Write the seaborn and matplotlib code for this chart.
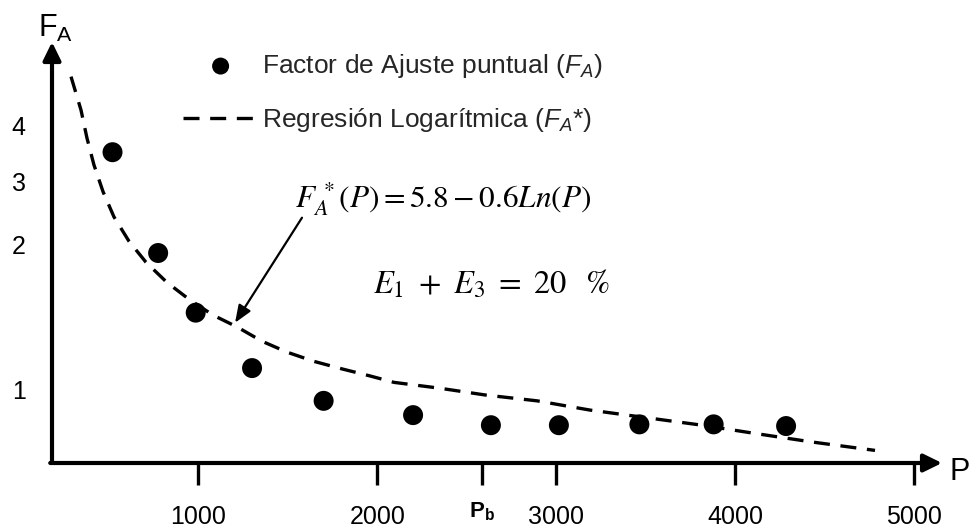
import matplotlib
matplotlib.use('Agg')
import matplotlib.pyplot as plt
import seaborn as sns
import pandas as pd
from matplotlib.transforms import ScaledTranslation

# ---------------- data ----------------
point_P = [520, 775, 985, 1300, 1700, 2200, 2635, 3015, 3465, 3880, 4285]
point_FA = [3.70, 2.50, 1.79, 1.13, 0.74, 0.57, 0.45, 0.45, 0.46, 0.46, 0.44]

curve_P = [288, 344, 377, 416, 467, 528, 612, 707, 824, 947, 1082, 1216, 1355,
           1495, 1646, 1803, 1953, 2093, 2350, 2602, 2893, 3189, 3502, 3815,
           4117, 4430, 4782]
curve_FA = [4.60, 4.20, 3.87, 3.55, 3.23, 2.93, 2.64, 2.39, 2.15, 1.95, 1.76,
            1.62, 1.45, 1.32, 1.21, 1.12, 1.04, 0.96, 0.89, 0.81, 0.74, 0.63,
            0.54, 0.45, 0.35, 0.25, 0.15]

xtick_values = [1000, 2000, 2585, 3000, 4000, 5000]
xtick_labels = ['1000', '2000', r'$\mathbf{P_b}$', '3000', '4000', '5000']
ytick_values = [0.87, 2.60, 3.35, 4.02]
ytick_labels = ['1', '2', '3', '4']

legend_labels = ['Factor de Ajuste puntual ($F_A$)',
                 'Regresión Logarítmica ($F_A$*)']
equation_text = r'$F_A^{\,*}(P) = 5.8 - 0.6Ln(P)$'
error_text = r'$E_1\ +\ E_3\ =\ 20\;\;\;\%$'
arrow_tip = (1205, 1.67)
arrow_tail = (1579, 2.92)

points = pd.DataFrame({'P': point_P, 'FA': point_FA})
curve = pd.DataFrame({'P': curve_P, 'FA': curve_FA})

# ---------------- style ----------------
sns.set_theme(style='white')
plt.rcParams['font.family'] = ['Liberation Sans', 'DejaVu Sans']
plt.rcParams['mathtext.fontset'] = 'custom'
plt.rcParams['mathtext.rm'] = 'Liberation Sans'
plt.rcParams['mathtext.it'] = 'Liberation Sans:italic'
plt.rcParams['mathtext.bf'] = 'Liberation Sans:bold'

W, H = 969, 527
fig = plt.figure(figsize=(W / 100, H / 100), dpi=100)
ax = fig.add_axes([52 / W, (H - 463) / H, (942 - 52) / W, (463 - 42) / H])

sns.scatterplot(data=points, x='P', y='FA', ax=ax, color='black', s=207,
                edgecolor='none', marker='o', label=legend_labels[0], zorder=3)
sns.lineplot(data=curve, x='P', y='FA', ax=ax, color='black', lw=2.4,
             linestyle=(0, (4.8, 3.2)), label=legend_labels[1], zorder=2)

ax.set_xlim(181.7, 5156.5)
ax.set_ylim(0, 5.012)
ax.set_xlabel('')
ax.set_ylabel('')

for s in ax.spines.values():
    s.set_visible(False)

# axis arrows
arrow_kw = dict(arrowstyle='-|>,head_length=0.55,head_width=0.27',
                mutation_scale=20, lw=3, color='black', shrinkA=0, shrinkB=0)
ax.annotate('', xy=(0, 1), xytext=(0, 0), xycoords='axes fraction',
            textcoords='axes fraction', arrowprops=arrow_kw)
ax.annotate('', xy=(1, 0), xytext=(-0.002, 0), xycoords='axes fraction',
            textcoords='axes fraction', arrowprops=arrow_kw)

ax.set_xticks(xtick_values, xtick_labels)
ax.set_yticks(ytick_values, ytick_labels)
ax.tick_params(axis='x', direction='out', length=16, width=2.4, color='black',
               pad=14, labelsize=18, labelcolor='black', bottom=True)
ax.tick_params(axis='y', length=0, pad=19, labelsize=18, labelcolor='black')
pb_label = ax.get_xticklabels()[2]
pb_label.set_fontsize(16)
pb_label.set_transform(pb_label.get_transform() +
                       ScaledTranslation(0, 3 / 72, fig.dpi_scale_trans))

# axis titles
fig.text(38 / W, 1 - 37 / H, r'F$_{\mathrm{A}}$', fontsize=22, ha='left',
         va='baseline', color='black')
fig.text(950 / W, 1 - 480 / H, 'P', fontsize=22, ha='left', va='baseline',
         color='black')

# equations
fig.text(295 / W, 1 - 208 / H, equation_text, fontsize=22.5, ha='left',
         va='baseline', math_fontfamily='stix', color='black')
fig.text(373 / W, 1 - 293 / H, error_text, fontsize=23.5, ha='left',
         va='baseline', math_fontfamily='stix', color='black')

ax.annotate('', xy=arrow_tip, xytext=arrow_tail,
            arrowprops=dict(arrowstyle='-|>,head_length=0.7,head_width=0.28',
                            mutation_scale=15, lw=1.6, color='black',
                            shrinkA=0, shrinkB=0))

# legend
handles, labels = ax.get_legend_handles_labels()
ax.legend(handles, labels, loc='upper left',
          bbox_to_anchor=(183 / W, 1 - 52 / H), bbox_transform=fig.transFigure,
          frameon=False, fontsize=19, handlelength=2.85, handletextpad=0.15,
          labelspacing=1.0, borderpad=0, borderaxespad=0, markerscale=0.85)

fig.savefig('out.png', dpi=100)
